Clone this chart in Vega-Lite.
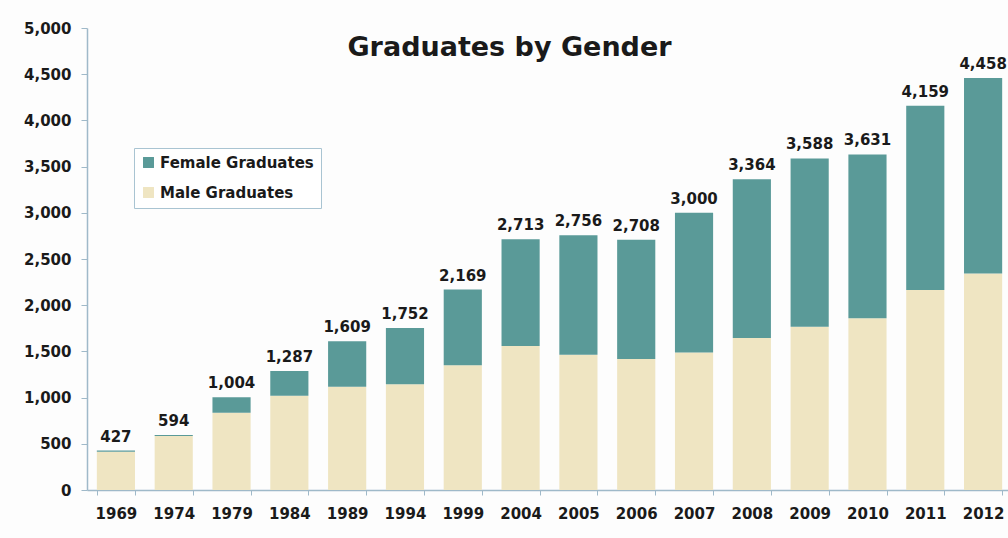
{
  "$schema": "https://vega.github.io/schema/vega-lite/v6.json",
  "autosize": {"type": "none"},
  "width": 925,
  "height": 462,
  "padding": {"left": 87, "top": 28, "right": 0, "bottom": 48},
  "background": "#fdfdfd",
  "title": {
    "text": "Graduates by Gender",
    "font": "DejaVu Sans",
    "fontSize": 27,
    "fontWeight": "bold",
    "color": "#1a1a1a",
    "anchor": "middle",
    "dx": -40,
    "dy": 45
  },
  "data": {
    "values": [
      {"year": "1969", "gender": "Male Graduates", "value": 415},
      {"year": "1969", "gender": "Female Graduates", "value": 12},
      {"year": "1974", "gender": "Male Graduates", "value": 585},
      {"year": "1974", "gender": "Female Graduates", "value": 9},
      {"year": "1979", "gender": "Male Graduates", "value": 837},
      {"year": "1979", "gender": "Female Graduates", "value": 167},
      {"year": "1984", "gender": "Male Graduates", "value": 1021},
      {"year": "1984", "gender": "Female Graduates", "value": 266},
      {"year": "1989", "gender": "Male Graduates", "value": 1118},
      {"year": "1989", "gender": "Female Graduates", "value": 491},
      {"year": "1994", "gender": "Male Graduates", "value": 1144},
      {"year": "1994", "gender": "Female Graduates", "value": 608},
      {"year": "1999", "gender": "Male Graduates", "value": 1349},
      {"year": "1999", "gender": "Female Graduates", "value": 820},
      {"year": "2004", "gender": "Male Graduates", "value": 1558},
      {"year": "2004", "gender": "Female Graduates", "value": 1155},
      {"year": "2005", "gender": "Male Graduates", "value": 1465},
      {"year": "2005", "gender": "Female Graduates", "value": 1291},
      {"year": "2006", "gender": "Male Graduates", "value": 1418},
      {"year": "2006", "gender": "Female Graduates", "value": 1290},
      {"year": "2007", "gender": "Male Graduates", "value": 1489},
      {"year": "2007", "gender": "Female Graduates", "value": 1511},
      {"year": "2008", "gender": "Male Graduates", "value": 1645},
      {"year": "2008", "gender": "Female Graduates", "value": 1719},
      {"year": "2009", "gender": "Male Graduates", "value": 1767},
      {"year": "2009", "gender": "Female Graduates", "value": 1821},
      {"year": "2010", "gender": "Male Graduates", "value": 1860},
      {"year": "2010", "gender": "Female Graduates", "value": 1771},
      {"year": "2011", "gender": "Male Graduates", "value": 2165},
      {"year": "2011", "gender": "Female Graduates", "value": 1994},
      {"year": "2012", "gender": "Male Graduates", "value": 2343},
      {"year": "2012", "gender": "Female Graduates", "value": 2115}
    ]
  },
  "encoding": {
    "x": {
      "field": "year",
      "type": "ordinal",
      "sort": null,
      "scale": {"paddingInner": 0.34, "paddingOuter": 0.17},
      "axis": {
        "title": null,
        "labelAngle": 0,
        "labelFont": "DejaVu Sans",
        "labelFontSize": 15,
        "labelFontWeight": "bold",
        "labelColor": "#1a1a1a",
        "labelPadding": 11,
        "tickBand": "extent",
        "tickSize": 5,
        "tickColor": "#9fb9c9",
        "domainColor": "#9fb9c9",
        "domainWidth": 1.5
      }
    }
  },
  "layer": [
    {
      "mark": {"type": "bar"},
      "encoding": {
        "y": {
          "field": "value",
          "type": "quantitative",
          "stack": "zero",
          "scale": {"domain": [0, 5000], "nice": false},
          "axis": {
            "title": null,
            "values": [0, 500, 1000, 1500, 2000, 2500, 3000, 3500, 4000, 4500, 5000],
            "format": ",.0f",
            "grid": false,
            "labelFont": "DejaVu Sans",
            "labelFontSize": 15,
            "labelFontWeight": "bold",
            "labelColor": "#1a1a1a",
            "labelPadding": 10,
            "tickSize": 6,
            "tickColor": "#9fb9c9",
            "domainColor": "#9fb9c9",
            "domainWidth": 1.5
          }
        },
        "color": {
          "field": "gender",
          "type": "nominal",
          "scale": {
            "domain": ["Female Graduates", "Male Graduates"],
            "range": ["#5a9a98", "#efe5c2"]
          },
          "legend": {
            "title": null,
            "orient": "none",
            "legendX": 47,
            "legendY": 120,
            "symbolType": "square",
            "symbolSize": 120,
            "symbolStrokeWidth": 0,
            "labelFont": "DejaVu Sans",
            "labelFontSize": 15,
            "labelFontWeight": "bold",
            "labelColor": "#1a1a1a",
            "rowPadding": 14,
            "padding": 7,
            "strokeColor": "#a9c4d2",
            "fillColor": "#ffffff"
          }
        },
        "order": {"field": "gender", "sort": "descending"}
      }
    },
    {
      "transform": [
        {"aggregate": [{"op": "sum", "field": "value", "as": "total"}], "groupby": ["year"]}
      ],
      "mark": {
        "type": "text",
        "font": "DejaVu Sans",
        "fontSize": 15,
        "fontWeight": "bold",
        "color": "#1a1a1a",
        "baseline": "alphabetic",
        "dy": -9
      },
      "encoding": {
        "y": {"field": "total", "type": "quantitative"},
        "text": {"field": "total", "type": "quantitative", "format": ",.0f"}
      }
    }
  ],
  "config": {
    "view": {"stroke": null}
  }
}
